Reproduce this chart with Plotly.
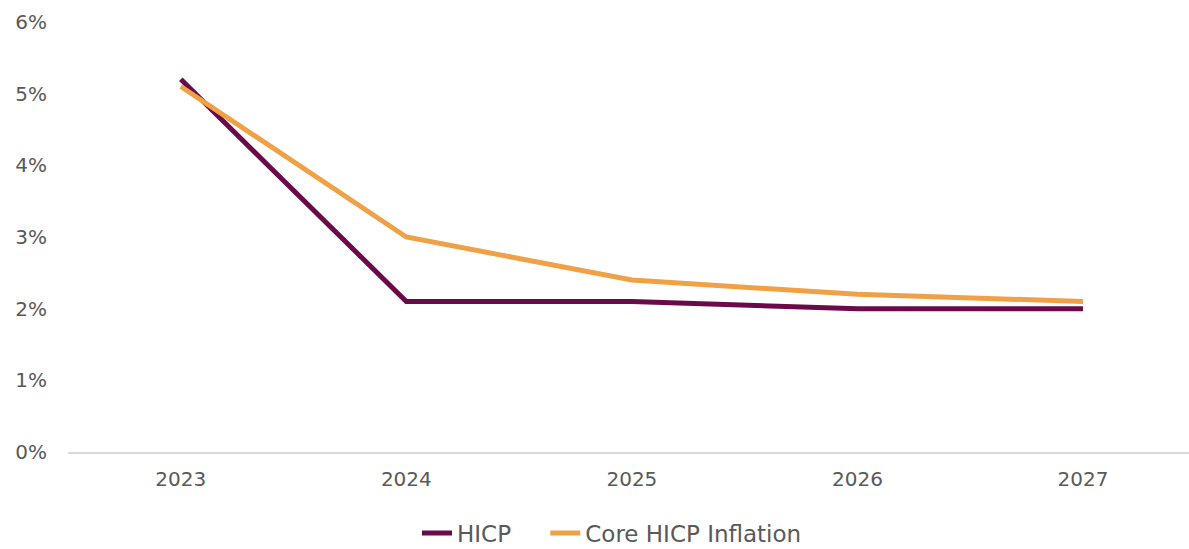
import plotly.graph_objects as go

years = ["2023", "2024", "2025", "2026", "2027"]
hicp = [5.2, 2.1, 2.1, 2.0, 2.0]
core = [5.1, 3.0, 2.4, 2.2, 2.1]
y_ticks = [0, 1, 2, 3, 4, 5, 6]
y_tick_labels = ["0%", "1%", "2%", "3%", "4%", "5%", "6%"]

fig = go.Figure()
fig.add_trace(go.Scatter(x=years, y=hicp, name="HICP" + "\u00a0" * 4, mode="lines",
                         line=dict(color="#6b0a4a", width=5)))
fig.add_trace(go.Scatter(x=years, y=core, name="Core HICP Inflation", mode="lines",
                         line=dict(color="#f0a045", width=5)))

fig.update_layout(
    width=1189, height=549,
    margin=dict(l=68, r=0, t=22, b=97, autoexpand=False),
    paper_bgcolor="white", plot_bgcolor="white",
    font=dict(family="DejaVu Sans", size=20, color="#595959"),
    showlegend=True,
    legend=dict(orientation="h", x=612 / 1189, xanchor="center", xref="container",
                y=1 - 533 / 549, yanchor="middle", yref="container",
                font=dict(size=23, color="#595959"), tracegroupgap=0),
    xaxis=dict(type="category", range=[-0.5, 4.47], showgrid=False, showline=True,
               linecolor="#d9d9d9", linewidth=2, ticks="", ticklabelstandoff=8,
               zeroline=False, automargin=False),
    yaxis=dict(range=[0, 6], tickvals=y_ticks, ticktext=y_tick_labels, showgrid=False,
               zeroline=False, showline=False, ticks="", ticklabelstandoff=20,
               automargin=False),
)
fig.write_html("out.html")
